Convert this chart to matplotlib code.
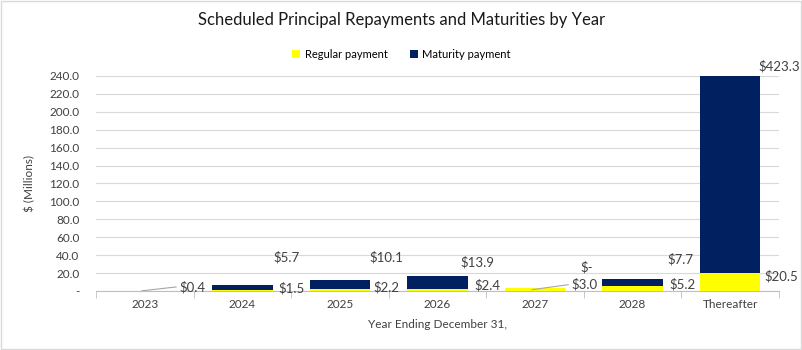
import matplotlib.pyplot as plt
from matplotlib.patches import Rectangle
import numpy as np

plt.rcParams['font.family'] = ['Lato', 'DejaVu Sans']

# datos
years = ['2023', '2024', '2025', '2026', '2027', '2028', 'Thereafter']
regular = [0.4, 1.5, 2.2, 2.4, 3.0, 5.2, 20.5]
maturity = [0.0, 5.7, 10.1, 13.9, 0.0, 7.7, 423.3]
maturity_labels = [None, '$5.7', '$10.1', '$13.9', '$-', '$7.7', '$423.3']

# posiciones de etiquetas (dx en categorias, y en datos)
reg_pos = [(0.49, 4.5), (0.50, 3.5), (0.48, 4.0), (0.51, 6.0), (0.51, 7.0), (0.51, 8.0), (0.52, 16.5)]
mat_pos = [None, (0.45, 38), (0.48, 38), (0.41, 32.5), (0.53, 27), (0.49, 35.5), (0.50, 251)]

yellow = '#FFFF00'
navy = '#002060'

fig = plt.figure(figsize=(8.03, 3.5), dpi=100)
ax = fig.add_axes([0.1196, 0.1686, 0.8504, 0.6144])

x = np.arange(len(years))
ax.bar(x, regular, width=0.62, color=yellow, label='Regular payment', zorder=3)
ax.bar(x, maturity, width=0.62, bottom=regular, color=navy, label='Maturity payment', zorder=3)

ax.set_xlim(-0.5, len(years) - 0.5)
ax.set_ylim(0, 240)
ax.set_yticks(np.arange(0, 241, 20))
ax.set_yticklabels(['-'] + [f'{v:.1f}' for v in np.arange(20, 241, 20)])
ax.set_xticks(x)
ax.set_xticklabels(years)
ax.set_xticks(np.arange(-0.5, len(years), 1), minor=True)
ax.tick_params(axis='x', which='major', length=0, labelsize=8.5, pad=6, colors='#404040')
ax.tick_params(axis='x', which='minor', length=5, color='#bfbfbf')
ax.tick_params(axis='y', length=0, labelsize=8.5, pad=12, colors='#404040')
ax.grid(axis='y', color='#d9d9d9', linewidth=0.8, zorder=0)
for s in ['top', 'right', 'left']:
    ax.spines[s].set_visible(False)
ax.spines['bottom'].set_color('#bfbfbf')

ax.set_xlabel('Year Ending December 31,', fontsize=8.5, color='#404040', labelpad=6)
ax.set_ylabel('$ (Millions)', fontsize=8.5, color='#404040', labelpad=10)

# etiquetas de valores
for i in range(len(years)):
    dx, yy = reg_pos[i]
    ax.text(i + dx, yy, f'${regular[i]:.1f}', ha='center', va='center', fontsize=9.5,
            color='#404040', clip_on=False)
    if maturity_labels[i]:
        dx, yy = mat_pos[i]
        ax.text(i + dx, yy, maturity_labels[i], ha='center', va='center', fontsize=9.5,
                color='#404040', clip_on=False)

# lineas guia
for i in [0, 4]:
    dx, yy = reg_pos[i]
    ax.plot([i - 0.03, i + dx - 0.17], [regular[i] * 0.5, yy], color='#a6a6a6',
            linewidth=0.8, zorder=4)

fig.suptitle('Scheduled Principal Repayments and Maturities by Year', y=0.965,
             fontsize=12, color='#1a1a1a')
fig.legend(loc='center', bbox_to_anchor=(0.5, 0.845), ncol=2, frameon=False, fontsize=8,
           handlelength=0.7, handleheight=0.7, handletextpad=0.4, columnspacing=2.0)

fig.patches.append(Rectangle((0.001, 0.002), 0.997, 0.995, transform=fig.transFigure,
                             fill=False, edgecolor='#d9d9d9', linewidth=1))

plt.savefig('out.png', dpi=100)
